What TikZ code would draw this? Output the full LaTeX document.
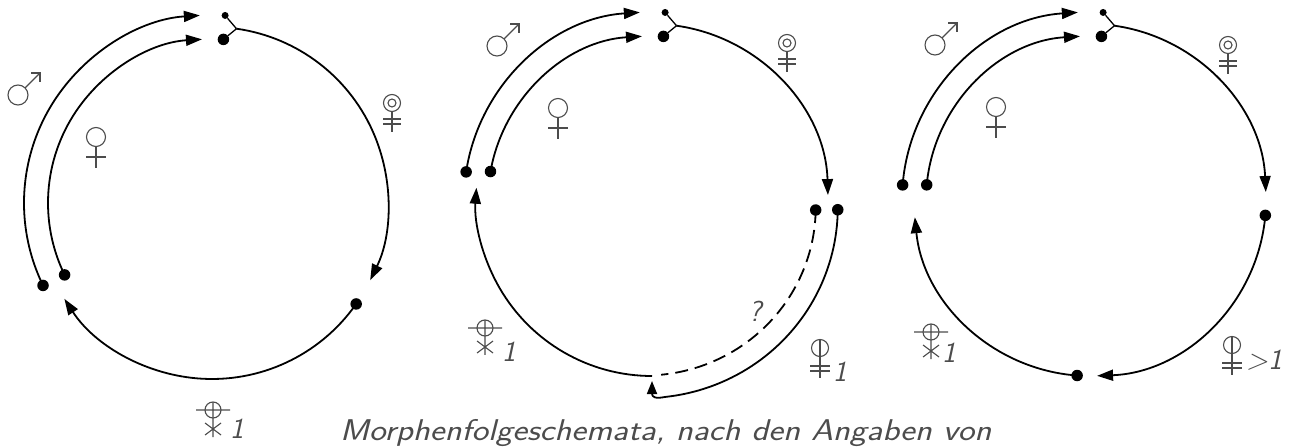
\documentclass[tikz,border=0pt]{standalone}
\usepackage{fontspec}
\usetikzlibrary{arrows.meta}
\begin{document}
\begin{tikzpicture}[x=1pt,y=1pt,
  main/.style={line width=1.8pt, black},
  arr/.style={main, -{Triangle[length=16pt,width=11pt]}},
  bigdot/.style={circle, fill=black, inner sep=0pt, minimum size=11.5pt},
  smalldot/.style={circle, fill=black, inner sep=0pt, minimum size=7pt},
  joint/.style={line width=1.3pt, black},
  sym/.style={line width=1.1pt, draw=black!70},
  lbl/.style={font=\fontsize{29}{31}\selectfont\sffamily\itshape, text=black!70, inner sep=0pt},
  mars/.pic={\draw[sym] (0,0) circle[radius=10]; \draw[sym] (45:10) -- (22,22); \draw[sym] (13,22) -- (22,22) -- (22,13);},
  venus/.pic={\draw[sym] (0,0) circle[radius=9.5]; \draw[sym] (0,-9.5) -- (0,-31) (-10,-20) -- (10,-20);},
  femO/.pic={\draw[sym] (0,0) circle[radius=8.5] (0,0) circle[radius=4]; \draw[sym] (0,-8.5) -- (0,-29) (-9,-16) -- (9,-16) (-9,-21) -- (9,-21);},
  phiF/.pic={\draw[sym] (0,0) circle[radius=8.5]; \draw[sym] (0,8.5) -- (0,-30) (-10,-18) -- (10,-18) (-10,-23) -- (10,-23);},
  plusX/.pic={\draw[sym] (0,0) circle[radius=8]; \draw[sym] (-17,0) -- (17,0) (0,8) -- (0,-27) (-8,-13) -- (8,-25) (-8,-25) -- (8,-13);},
]
\useasboundingbox (0,0) rectangle (1289,447);
\fill[white] (0,0) rectangle (1289,447);

% ---------- Panel 1 ----------
\begin{scope}[shift={(212,244)}]
  \node[smalldot] (a1s) at (86:188) {};
  \node[bigdot] (a1b) at (86:164) {};
  \coordinate (a1j) at (82:176);
  \draw[joint] (a1s) -- (a1j) (a1b) -- (a1j);
  \draw[arr] (a1j) arc[start angle=82, end angle=-26, radius=176];
  \node[bigdot] (a1r) at (-35:176) {};
  \draw[arr] (a1r.center) arc[start angle=-35, end angle=-147, radius=176];
  \node[bigdot] (a1lo) at (206:188) {};
  \node[bigdot] (a1li) at (206:164) {};
  \draw[arr] (a1lo.center) arc[start angle=206, end angle=93.7, radius=188];
  \draw[arr] (a1li.center) arc[start angle=206, end angle=93.5, radius=164];
\end{scope}
\pic at (18,352) {mars};
\pic at (96,310) {venus};
\pic at (392,344) {femO};
\pic at (213,37) {plusX};
\node[lbl] (n11) at (237,18) {1};

% ---------- Panel 2 ----------
\begin{scope}[shift={(652,247)}]
  \node[smalldot] (a2s) at (86:188) {};
  \node[bigdot] (a2b) at (86:164) {};
  \coordinate (a2j) at (82:176);
  \draw[joint] (a2s) -- (a2j) (a2b) -- (a2j);
  \draw[arr] (a2j) arc[start angle=82, end angle=1.6, radius=176];
  \node[bigdot] (a2ri) at (-3.5:164) {};
  \node[bigdot] (a2ro) at (-3:186) {};
  \draw[main, dash pattern=on 13pt off 7pt] (a2ri.center) -- plot[domain=-3.5:-87, samples=50] (\x:{164+11*(-3.5-\x)/83.5});
  \coordinate (a2tip) at (0,-181);
  \draw[main, -{Triangle[length=13pt,width=10pt]}] (a2ro.center) -- plot[domain=-3:-86.2, samples=50] (\x:{186+11.4*(-3-\x)/83.2}) .. controls (3,-199) and (0,-197) .. (a2tip);
  \coordinate (a2bt) at (270:176);
  \draw[arr] (a2bt) arc[start angle=270, end angle=176, radius=176];
  \node[bigdot] (a2lo) at (171.4:188) {};
  \node[bigdot] (a2li) at (170:164) {};
  \draw[arr] (a2lo.center) arc[start angle=171.4, end angle=93.7, radius=188];
  \draw[arr] (a2li.center) arc[start angle=170, end angle=93.5, radius=164];
\end{scope}
\pic at (497,401) {mars};
\pic at (558,339) {venus};
\pic at (787,404) {femO};
\pic at (485,119) {plusX};
\node[lbl] (n21) at (509,95) {1};
\node[lbl] (nq) at (755,136) {?};
\pic at (820,99) {phiF};
\node[lbl] (n22) at (840,75) {1};

% ---------- Panel 3 ----------
\begin{scope}[shift={(1090,247)}]
  \node[smalldot] (a3s) at (86:188) {};
  \node[bigdot] (a3b) at (86:164) {};
  \coordinate (a3j) at (82:176);
  \draw[joint] (a3s) -- (a3j) (a3b) -- (a3j);
  \draw[arr] (a3j) arc[start angle=82, end angle=2.6, radius=176];
  \node[bigdot] (a3r) at (-5:176) {};
  \draw[arr] (a3r.center) arc[start angle=-5, end angle=-87.7, radius=176];
  \node[bigdot] (a3bt) at (265.8:176) {};
  \draw[arr] (a3bt.center) arc[start angle=265.8, end angle=185.6, radius=176];
  \node[bigdot] (a3lo) at (175.4:188) {};
  \node[bigdot] (a3li) at (174.7:164) {};
  \draw[arr] (a3lo.center) arc[start angle=175.4, end angle=93.7, radius=188];
  \draw[arr] (a3li.center) arc[start angle=174.7, end angle=93.5, radius=164];
\end{scope}
\pic at (935,402) {mars};
\pic at (996,340) {venus};
\pic at (1228,402) {femO};
\pic at (931,115) {plusX};
\node[lbl] (n31) at (949,94) {1};
\pic at (1232,102) {phiF};
\node[lbl] (n32) at (1264,87) {>1};

% ---------- Caption ----------
\node[font=\fontsize{30}{32}\selectfont\sffamily\itshape, text=black!70, anchor=base west, inner sep=0pt, xscale=1.17] (cap) at (340,7) {Morphenfolgeschemata, nach den Angaben von};
\end{tikzpicture}
\end{document}
